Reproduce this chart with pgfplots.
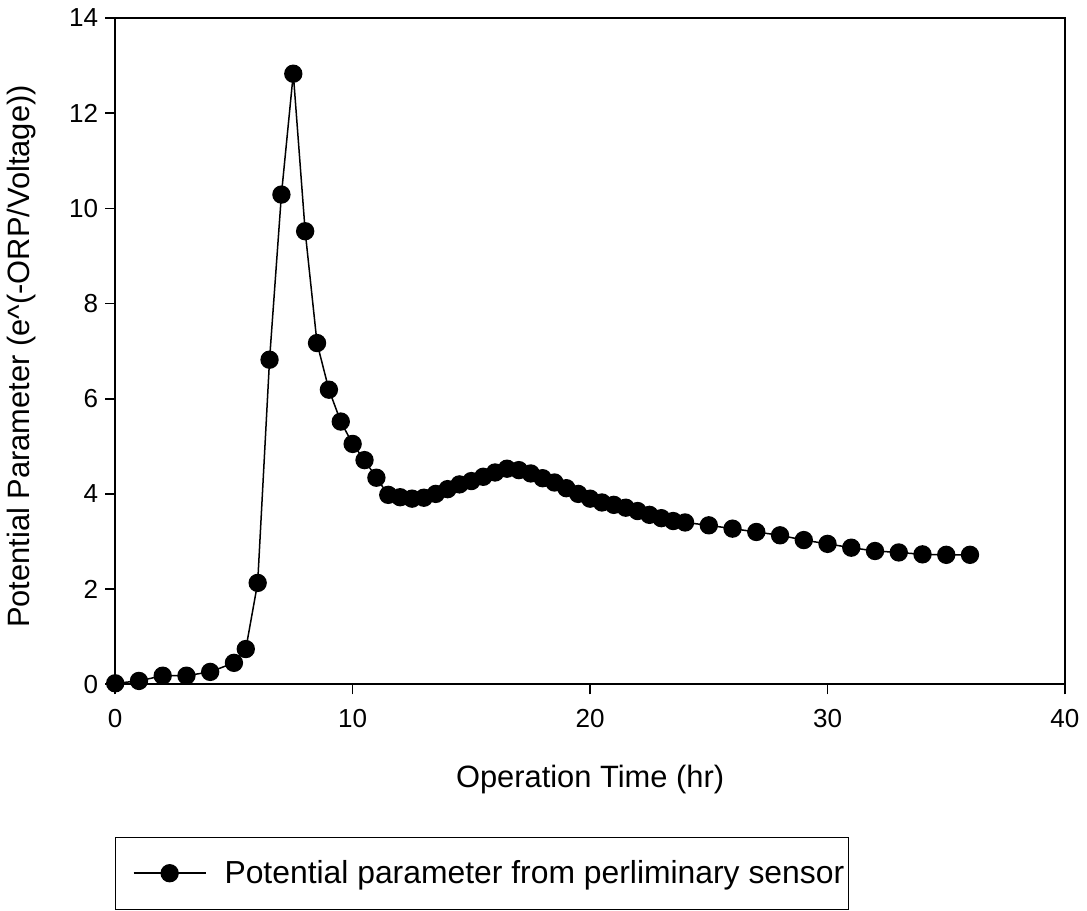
\documentclass[border=0pt]{standalone}
\usepackage{fontspec}
\setmainfont{Liberation Sans}
\usepackage{pgfplots}
\pgfplotsset{compat=1.18}
\begin{document}
\begin{tikzpicture}
\begin{axis}[
  name=ax,
  scale only axis,
  width=474pt, height=332.5pt,
  xmin=0, xmax=40, ymin=0, ymax=14,
  xtick={0,10,20,30,40},
  ytick={0,2,4,6,8,10,12,14},
  axis line style={line width=0.8pt},
  tick pos=left,
  tick align=outside,
  major tick length=5pt,
  major tick style={black, line width=0.8pt},
  /pgf/number format/assume math mode=true,
  ticklabel style={font=\fontsize{13}{15}\selectfont},
  xticklabel style={yshift=-4pt},
  label style={font=\fontsize{15.4}{18}\selectfont},
  xlabel={Operation Time (hr)},
  xlabel style={at={(axis description cs:0.5,0)}, anchor=north, yshift=-37pt},
  ylabel={Potential Parameter (e\textasciicircum(-ORP/Voltage))},
  ylabel style={at={(axis description cs:-0.076,0.492)}, anchor=south},
  clip mode=individual,
  legend style={at={(0,0)}, anchor=north west, yshift=-76pt, draw=black, line width=0.6pt,
    font=\fontsize{15.9}{18}\selectfont, inner xsep=0pt, inner ysep=9.5pt},
  legend image code/.code={\path (0pt,0pt) (51.5pt,0pt);
    \draw[#1, mark repeat=2, mark phase=2] plot coordinates {(8.5pt,0pt) (26.5pt,0pt) (44.5pt,0pt)};},
]
\addplot[black, line width=0.75pt, mark=*, mark size=4.2pt, mark options={fill=black}] coordinates {
(0,0.02) (1,0.07) (2,0.18) (3,0.18) (4,0.26) (5,0.45) (5.5,0.74) (6,2.13)
(6.5,6.82) (7,10.29) (7.5,12.83) (8,9.52) (8.5,7.17) (9,6.19) (9.5,5.52)
(10,5.05) (10.5,4.71) (11,4.34) (11.5,3.98) (12,3.93) (12.5,3.90) (13,3.92)
(13.5,4.00) (14,4.10) (14.5,4.20) (15,4.27) (15.5,4.36) (16,4.45) (16.5,4.53)
(17,4.50) (17.5,4.43) (18,4.33) (18.5,4.24) (19,4.12) (19.5,4.00) (20,3.90)
(20.5,3.82) (21,3.77) (21.5,3.71) (22,3.64) (22.5,3.56) (23,3.49) (23.5,3.43)
(24,3.40) (25,3.34) (26,3.27) (27,3.20) (28,3.13) (29,3.03) (30,2.95)
(31,2.87) (32,2.80) (33,2.77) (34,2.73) (35,2.72) (36,2.72)
};
\addlegendentry{Potential parameter from perliminary sensor}
\end{axis}
\path ([xshift=-57.5pt,yshift=-113pt]ax.south west) ([xshift=11pt,yshift=9pt]ax.north east);
\end{tikzpicture}
\end{document}
